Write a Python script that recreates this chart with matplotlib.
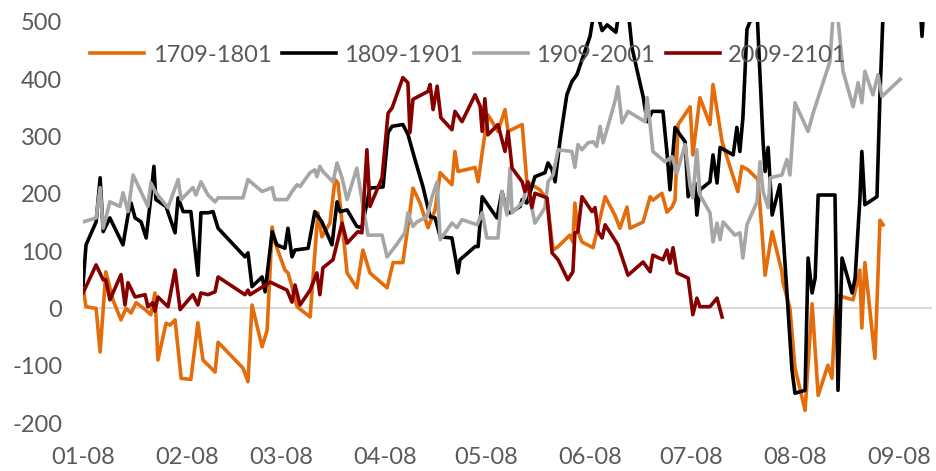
import matplotlib
matplotlib.use("Agg")
import matplotlib.pyplot as plt

# x = days since 01-08, y = spread value
tick_days = [0, 31, 59, 90, 120, 151, 181, 212, 243]
tick_labels = ["01-08", "02-08", "03-08", "04-08", "05-08", "06-08", "07-08", "08-08", "09-08"]

days_1709 = [0.0, 0.9, 3.9, 5.1, 6.8, 8.9, 11.3, 12.8, 14.3, 15.8, 18.5, 20.2, 21.4, 22.3, 24.7, 25.9,
             27.4, 29.2, 32.1, 34.2, 35.7, 39.3, 40.2, 47.6, 49.1, 50.3, 53.3, 54.8, 56.3, 57.1, 60.1,
             61.0, 62.2, 63.7, 67.6, 69.9, 71.1, 73.5, 75.0, 75.9, 77.4, 78.6, 81.5, 83.3, 85.4, 90.5,
             92.3, 95.2, 97.3, 98.2, 100.3, 102.7, 104.8, 106.3, 109.8, 110.7, 111.6, 116.7, 117.6,
             118.8, 120.5, 123.5, 125.6, 126.5, 130.7, 132.1, 136.0, 138.1, 139.9, 141.4, 144.9, 145.8,
             146.4, 147.3, 148.5, 151.8, 153.9, 155.4, 158.3, 159.8, 161.9, 162.8, 166.7, 168.8, 169.6,
             172.3, 173.8, 175.3, 176.2, 177.1, 180.7, 181.5, 183.6, 186.6, 187.5, 190.2, 194.9, 196.1,
             197.9, 200.9, 202.1, 203.0, 205.1, 208.0, 208.3, 210.4, 211.9, 214.9, 217.0, 218.8, 221.7,
             222.9, 223.8, 224.4, 226.2, 229.2, 231.2, 231.8, 232.7, 235.7, 237.2, 238.1]
vals_1709 = [37, 3, 0, -76, 64, 15, -20, 0, -8, 10, -2, -11, 27, -90, -26, -29,
             -20, -122, -124, -25, -90, -111, -59, -104, -128, 6, -67, -38, 142, 116, 67,
             62, 38, 3, -15, 167, 125, 149, 225, 219, 132, 62, 36, 102, 62, 36,
             80, 80, 169, 210, 184, 141, 172, 237, 216, 274, 239, 246, 221,
             272, 338, 309, 347, 309, 321, 221, 207, 190, 102, 108, 128, 116,
             184, 134, 116, 106, 158, 195, 163, 140, 177, 140, 151, 195, 189,
             201, 168, 177, 189, 321, 352, 268, 368, 321, 391, 291, 204, 248,
             242, 225, 132, 58, 134, 64, 46, 0, -104, -178, 8, -152, -99,
             -122, -17, 23, 20, 15, 67, -34, 80, -87, 154, 146]

days_1809 = [0.0, 0.9, 3.9, 5.1, 6.0, 8.0, 11.9, 13.4, 14.3, 15.5, 17.3, 18.8, 20.2, 21.1, 21.7, 24.7,
             27.4, 28.3, 29.8, 32.1, 34.2, 35.1, 37.2, 38.7, 40.2, 48.2, 49.1, 50.3, 53.3, 54.2, 56.3,
             57.7, 60.1, 61.0, 62.2, 63.1, 67.0, 69.0, 71.1, 74.1, 75.6, 76.5, 78.6, 81.5, 83.0, 85.4,
             89.3, 90.8, 92.0, 95.2, 96.7, 98.8, 101.2, 103.3, 104.8, 106.3, 109.8, 111.6, 112.2, 116.7,
             117.6, 118.8, 123.2, 124.7, 126.2, 127.1, 130.1, 130.7, 132.1, 134.5, 137.5, 138.4, 139.6,
             140.5, 142.0, 144.0, 145.5, 147.0, 150.9, 152.4, 154.5, 156.0, 158.6, 159.8, 161.9, 163.4,
             165.2, 166.7, 167.9, 169.4, 172.6, 173.8, 174.7, 176.2, 177.7, 179.2, 180.1, 182.1, 182.7,
             183.6, 186.6, 187.5, 188.7, 189.6, 193.5, 194.6, 195.5, 196.4, 197.6, 199.1, 200.6, 202.4,
             203.0, 203.9, 205.1, 207.4, 211.0, 211.9, 214.9, 215.8, 217.0, 217.9, 218.8, 223.8, 224.7,
             225.9, 228.9, 229.8, 231.2, 231.8, 232.7, 236.3, 237.2, 238.4, 248.5, 249.7, 250.6]
vals_1809 = [41, 111, 151, 228, 134, 158, 111, 163, 184, 158, 151, 123, 195, 248, 190, 178,
             132, 193, 169, 169, 58, 167, 167, 169, 140, 90, 97, 38, 55, 29, 134,
             111, 105, 140, 90, 102, 105, 169, 151, 111, 186, 169, 172, 143, 141, 210,
             212, 307, 318, 321, 304, 260, 212, 160, 158, 125, 123, 62, 85, 108,
             108, 195, 158, 204, 169, 167, 178, 190, 184, 230, 237, 254, 242,
             221, 295, 373, 396, 408, 475, 530, 485, 495, 482, 530, 540, 455,
             408, 370, 326, 344, 344, 272, 207, 316, 303, 291, 195, 219, 163,
             207, 221, 268, 219, 281, 268, 316, 274, 333, 487, 510, 520, 291,
             239, 281, 163, 216, -107, -148, -143, 88, 27, 53, 198, 198, -143,
             88, 27, 53, 190, 274, 181, 195, 373, 560, 600, 475, 560]

days_1909 = [0.0, 3.9, 5.1, 6.0, 8.0, 11.0, 11.9, 13.4, 14.9, 19.3, 20.2, 21.7, 25.3, 28.3, 29.2, 32.7,
             33.6, 35.1, 37.2, 39.3, 40.2, 47.6, 49.1, 53.3, 56.3, 57.1, 60.7, 62.2, 63.7, 64.6, 67.6,
             69.0, 69.6, 70.5, 71.4, 74.4, 75.6, 77.1, 78.6, 81.5, 83.0, 84.8, 89.0, 90.5, 92.9, 95.8,
             96.7, 98.2, 99.4, 102.4, 103.9, 105.4, 106.3, 109.8, 111.3, 112.8, 117.3, 118.8, 120.2,
             123.5, 124.7, 126.2, 127.1, 127.7, 131.0, 132.1, 133.0, 134.5, 137.5, 138.4, 139.9, 141.4,
             145.5, 146.4, 147.3, 148.5, 150.3, 151.8, 152.9, 153.9, 154.8, 158.3, 159.2, 160.4, 162.2,
             167.3, 167.9, 168.8, 169.6, 173.2, 175.3, 176.8, 179.2, 180.7, 181.5, 182.7, 183.6, 186.6,
             187.5, 188.7, 189.6, 190.5, 194.0, 195.5, 196.4, 197.6, 200.6, 201.5, 202.4, 203.9, 204.5,
             208.0, 209.5, 210.4, 211.9, 215.8, 217.3, 222.3, 223.8, 226.2, 229.2, 230.7, 231.8, 232.7,
             235.1, 236.6, 237.8, 243.2]
vals_1909 = [151, 158, 211, 140, 186, 178, 202, 169, 233, 178, 219, 202, 176, 225, 190, 211,
             198, 221, 198, 186, 193, 193, 225, 204, 211, 190, 190, 204, 216, 213, 237,
             242, 230, 248, 239, 221, 254, 228, 190, 245, 190, 128, 128, 90, 108, 132,
             167, 143, 151, 160, 195, 221, 120, 149, 141, 155, 146, 167, 123,
             123, 204, 163, 245, 167, 186, 219, 193, 149, 176, 221, 233, 277,
             274, 246, 286, 277, 289, 291, 283, 318, 289, 361, 387, 324, 344,
             326, 368, 321, 274, 256, 265, 237, 286, 213, 193, 277, 198, 167,
             116, 149, 120, 151, 128, 132, 88, 146, 186, 256, 204, 176, 228,
             233, 260, 233, 359, 309, 341, 431, 560, 414, 352, 394, 359, 414,
             373, 408, 370, 400]

days_2009 = [0.0, 3.9, 6.0, 6.8, 8.0, 11.3, 12.5, 13.4, 15.5, 18.5, 19.3, 20.8, 21.4, 22.3, 25.3, 27.4,
             28.9, 32.7, 34.2, 35.1, 37.2, 39.3, 40.2, 48.2, 49.1, 49.7, 55.7, 60.7, 62.2, 63.1, 64.6,
             67.6, 69.6, 70.5, 71.4, 74.4, 77.1, 78.6, 81.8, 83.0, 84.5, 85.4, 89.0, 90.8, 92.0, 95.2,
             96.7, 97.3, 98.2, 102.7, 103.3, 104.2, 105.4, 106.5, 109.8, 110.7, 112.8, 116.7, 118.2,
             118.8, 119.6, 120.5, 123.5, 125.6, 126.5, 127.7, 130.7, 131.5, 132.4, 133.6, 134.5, 138.1,
             139.6, 141.4, 144.3, 145.8, 146.4, 147.3, 148.5, 151.5, 152.4, 153.3, 154.5, 155.4, 159.2,
             162.2, 166.7, 168.8, 169.6, 172.6, 173.8, 174.7, 175.6, 176.8, 180.1, 181.5, 182.7, 183.6,
             186.6, 188.7, 190.2]
vals_2009 = [27, 76, 50, 50, 15, 59, 6, 45, 20, 24, 3, 10, -5, 20, 3, 67,
             -2, 24, 6, 27, 24, 29, 55, 24, 32, 24, 46, 32, 11, 41, 6,
             32, 62, 24, 71, 85, 149, 114, 134, 132, 277, 178, 228, 341, 350, 403,
             394, 307, 365, 379, 391, 347, 388, 333, 312, 344, 326, 373, 353,
             309, 366, 303, 321, 274, 309, 245, 221, 204, 221, 176, 201, 193,
             97, 85, 50, 64, 132, 134, 195, 169, 176, 134, 123, 146, 111,
             58, 81, 64, 93, 85, 102, 79, 106, 62, 53, -11, 18, 3,
             3, 18, -15]

series = [
    ("1709-1801", days_1709, vals_1709, "#E46C0A"),
    ("1809-1901", days_1809, vals_1809, "#000000"),
    ("1909-2001", days_1909, vals_1909, "#A6A6A6"),
    ("2009-2101", days_2009, vals_2009, "#870000"),
]

plt.rcParams["font.family"] = ["Lato", "DejaVu Sans"]
plt.rcParams["axes.unicode_minus"] = False

fig = plt.figure(figsize=(9.37, 4.71), dpi=100)
ax = fig.add_axes([83 / 937, 1 - 423 / 471, 849 / 937, 401 / 471])

ax.axhline(0, color="#D9D9D9", linewidth=1.5, zorder=1)
for name, xs, ys, color in series:
    ax.plot(xs, ys, color=color, linewidth=2.6, label=name, zorder=2)

ax.set_ylim(-200, 500)
ax.set_xlim(0, 849 / 3.36)
ax.set_yticks(range(-200, 501, 100))
ax.set_xticks(tick_days)
ax.set_xticklabels(tick_labels)
ax.tick_params(axis="both", length=0, labelsize=17, colors="#595959")
ax.tick_params(axis="y", pad=15)
ax.tick_params(axis="x", pad=17)
for side in ax.spines.values():
    side.set_visible(False)

fig.legend(loc="center", bbox_to_anchor=(0.5, 1 - 55 / 471), ncol=4, frameon=False,
           fontsize=17, handlelength=2.3, handletextpad=0.35, columnspacing=0.45,
           labelcolor="#595959")

fig.savefig("out.png", dpi=100)
